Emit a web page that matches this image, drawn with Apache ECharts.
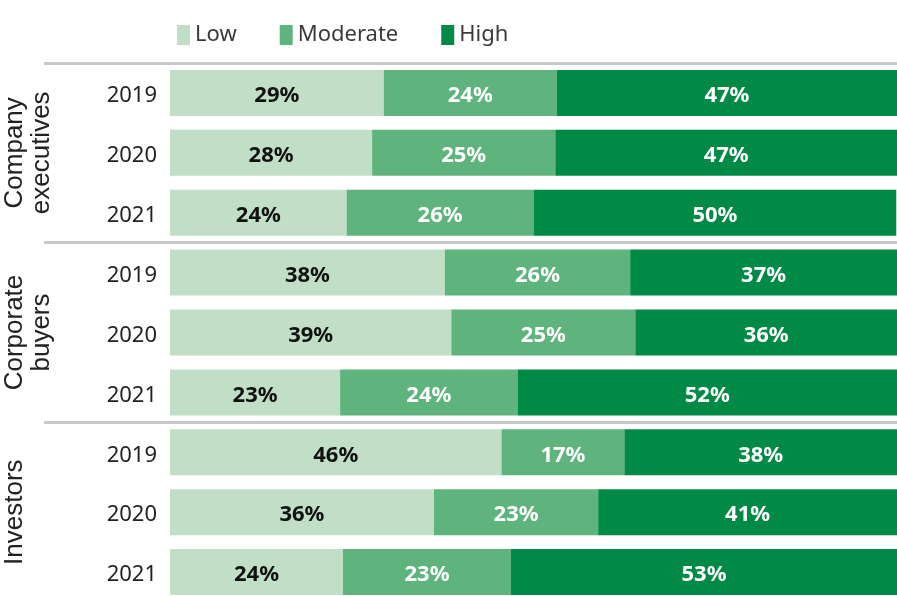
<!DOCTYPE html>
<html>
<head>
<meta charset="utf-8">
<script src="https://cdn.jsdelivr.net/npm/echarts@6/dist/echarts.min.js"></script>
<style>
html,body{margin:0;padding:0;background:#fff;}
#chart{width:897px;height:596px;}
</style>
</head>
<body>
<div id="chart"></div>
<script>
// Data
const groups = ['Company\nexecutives', 'Corporate\nbuyers', 'Investors'];
const rowYears = ['2019', '2020', '2021', '2019', '2020', '2021', '2019', '2020', '2021'];
const rowKeys = ['CE 2019', 'CE 2020', 'CE 2021', 'CB 2019', 'CB 2020', 'CB 2021', 'IN 2019', 'IN 2020', 'IN 2021'];
const seriesNames = ['Low', 'Moderate', 'High'];
const lowValues = [29.4, 27.8, 24.3, 37.8, 38.7, 23.4, 45.6, 36.3, 23.8];
const moderateValues = [23.8, 25.2, 25.7, 25.5, 25.3, 24.4, 16.9, 22.6, 23.1];
const highValues = [46.8, 47.0, 49.9, 36.7, 36.0, 52.2, 37.5, 41.1, 53.1];

const colors = ['#c1dfc6', '#5eb47c', '#008a46'];
const labelColors = ['#111111', '#ffffff', '#ffffff'];
const valueSets = [lowValues, moderateValues, highValues];

const chart = echarts.init(document.getElementById('chart'));

const series = seriesNames.map((name, i) => ({
  name: name,
  type: 'bar',
  stack: 'total',
  yAxisIndex: 0,
  barWidth: 46,
  data: valueSets[i],
  itemStyle: { color: colors[i] },
  label: {
    show: true,
    position: 'inside',
    offset: [0, 3],
    formatter: p => Math.round(p.value) + '%',
    color: labelColors[i],
    fontFamily: 'Noto Sans',
    fontWeight: 'bold',
    fontSize: 22
  },
  emphasis: { disabled: true },
  animation: false
}));

chart.setOption({
  animation: false,
  color: colors,
  legend: {
    data: seriesNames,
    left: 172,
    top: 19,
    itemWidth: 13,
    itemHeight: 20,
    itemGap: 43,
    icon: 'rect',
    textStyle: { fontFamily: 'Noto Sans', fontSize: 22, color: '#3a3a3a', padding: [2, 0, 0, 0] },
    selectedMode: false
  },
  grid: { left: 170, right: 0, top: 63, height: 539, containLabel: false, outerBoundsMode: 'none' },
  xAxis: { type: 'value', min: 0, max: 100, show: false },
  yAxis: [
    {
      type: 'category',
      inverse: true,
      data: rowKeys,
      axisLine: { show: false },
      axisTick: { show: false },
      splitLine: { show: false },
      axisLabel: {
        formatter: (v, i) => '{y|' + rowYears[i] + '}',
        margin: 13,
        rich: {
          y: {
            fontFamily: 'Noto Sans',
            fontSize: 22,
            color: '#222222',
            padding: [6, 0, 0, 0]
          }
        }
      }
    },
    {
      type: 'category',
      inverse: true,
      position: 'left',
      data: groups,
      axisLine: { show: false },
      axisTick: { show: true, length: 126, lineStyle: { color: '#c8c8c8', width: 3 } },
      splitLine: { show: true, lineStyle: { color: '#c8c8c8', width: 3 } },
      axisLabel: {
        rotate: 90,
        margin: 169,
        verticalAlign: 'top',
        align: 'center',
        fontFamily: 'Liberation Sans',
        fontSize: 26,
        lineHeight: 27,
        color: '#222222'
      }
    }
  ],
  series: series
});
</script>
</body>
</html>
